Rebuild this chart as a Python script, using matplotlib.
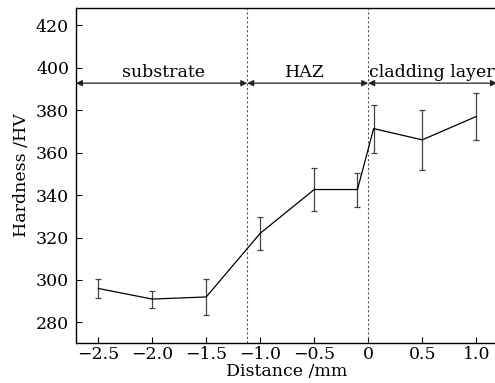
import matplotlib.pyplot as plt

plt.rcParams['font.family'] = ['DejaVu Serif']

distance = [-2.5, -2.0, -1.5, -1.0, -0.5, -0.1, 0.05, 0.5, 1.0]
hardness = [296, 291, 292, 322, 342.6, 342.6, 371.3, 366, 377]
errors = [4.3, 4, 8.6, 7.8, 10, 8, 11.3, 14, 11]

xticks = [-2.5, -2.0, -1.5, -1.0, -0.5, 0, 0.5, 1.0]
xticklabels = ['\u22122.5', '\u22122.0', '\u22121.5', '\u22121.0', '\u22120.5', '0', '0.5', '1.0']
yticks = [280, 300, 320, 340, 360, 380, 400, 420]

boundaries = [-1.12, 0.0]
zones = ['substrate', 'HAZ', 'cladding layer']
zone_x = [-1.9, -0.59, 0.59]

fig = plt.figure(figsize=(4.95, 3.83), dpi=100)
ax = fig.add_axes([0.1535, 0.1044, 0.8505, 0.8747])

xmin, xmax = -2.706, 1.192
ax.set_xlim(xmin, xmax)
ax.set_ylim(270.3, 428.1)

ax.errorbar(distance, hardness, yerr=errors, color='black', lw=0.9,
            ecolor='#444444', elinewidth=0.9, capsize=2.5, capthick=0.9)

for b in boundaries:
    ax.axvline(b, color='#555555', ls=(0, (2, 2)), lw=0.8)

arrow_y = 392.7
edges = [xmin] + boundaries + [xmax]
for i in range(3):
    ax.annotate('', xy=(edges[i + 1], arrow_y), xytext=(edges[i], arrow_y),
                arrowprops=dict(arrowstyle='<|-|>', color='#222222', lw=0.9,
                                mutation_scale=9, shrinkA=0, shrinkB=0))
    ax.text(zone_x[i], 395.5, zones[i], ha='center', va='baseline', fontsize=12.5)

ax.set_xticks(xticks)
ax.set_xticklabels(xticklabels)
ax.set_yticks(yticks)
ax.tick_params(direction='in', length=4, width=0.8, labelsize=12.5)
ax.tick_params(axis='x', pad=2)
ax.tick_params(axis='y', pad=5)
ax.spines['right'].set_visible(False)
for s in ['left', 'bottom', 'top']:
    ax.spines[s].set_linewidth(1.0)

ax.set_xlabel('Distance /mm', fontsize=12.5, labelpad=0)
ax.set_ylabel('Hardness /HV', fontsize=12.5, labelpad=4)

fig.savefig('out.png', dpi=100)
